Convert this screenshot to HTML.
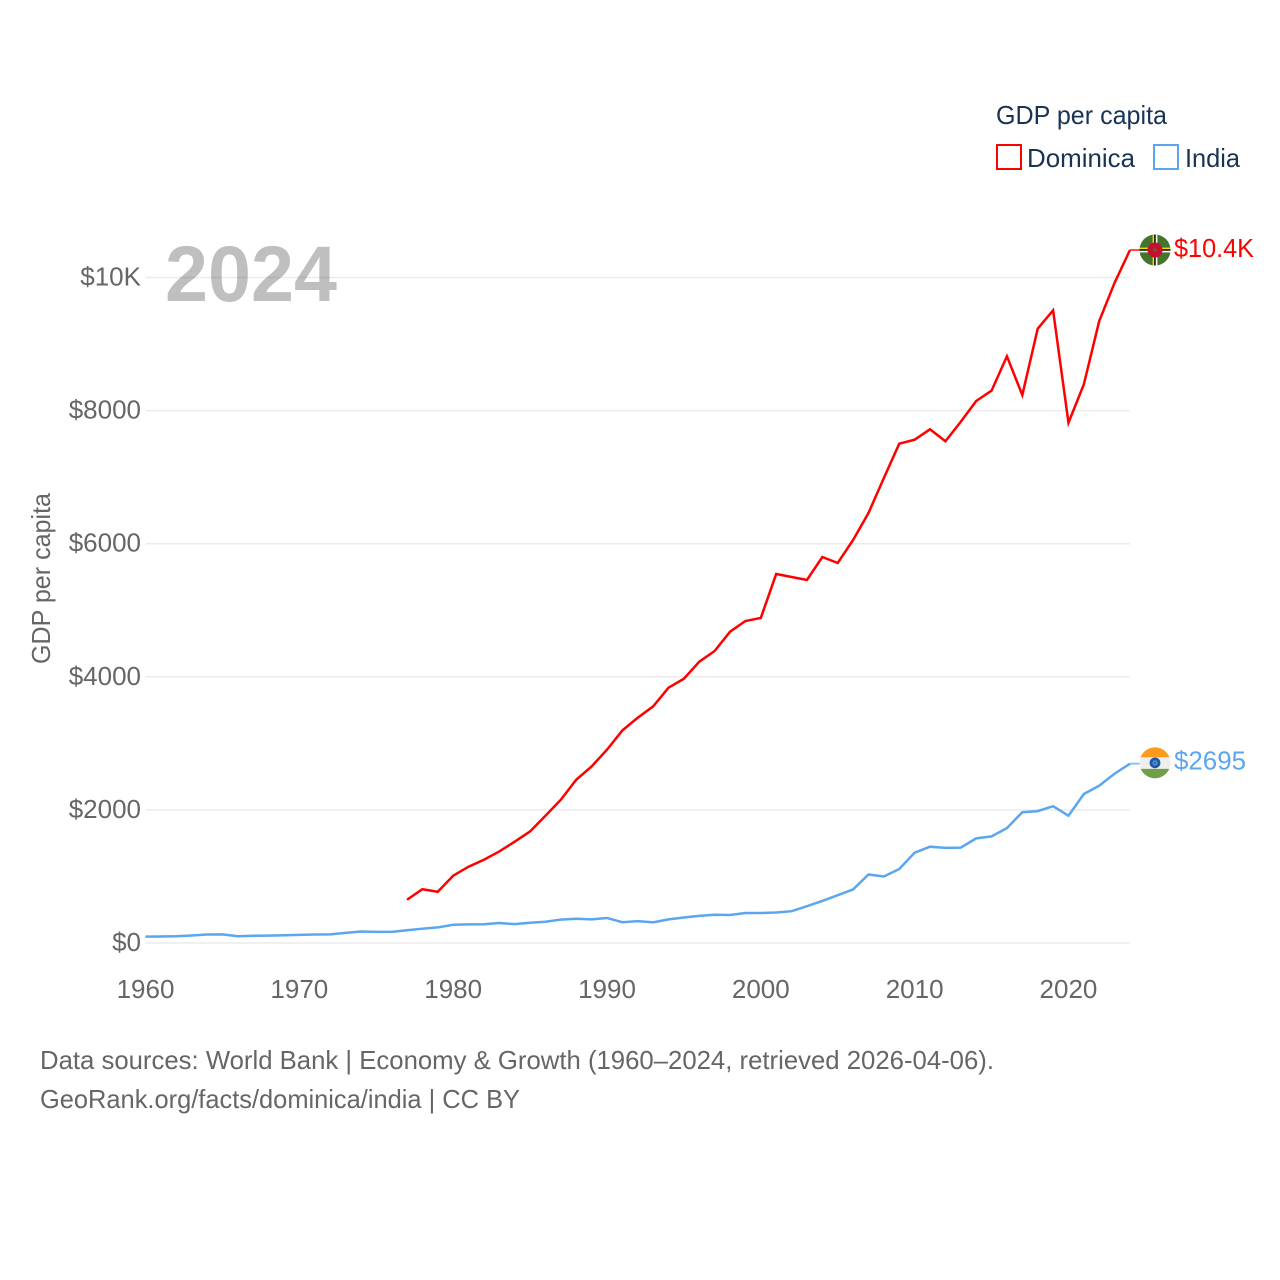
<!DOCTYPE html>
<html lang="en">
<head>
<meta charset="utf-8">
<title>GDP per capita: Dominica and India</title>
<style>
html,body{margin:0;padding:0;background:#fff;}
svg{display:block;}
text{font-family:"Liberation Sans",sans-serif;}
</style>
</head>
<body>
<svg id="chart" xmlns="http://www.w3.org/2000/svg" width="1280" height="1280" viewBox="0 0 1280 1280">
  <defs>
    <clipPath id="flag-clip"><circle cx="0" cy="0" r="15.5"/></clipPath>
  </defs>
  <rect x="0" y="0" width="1280" height="1280" fill="#ffffff"/>

  <g id="grid"></g>
  <text x="165" y="301" font-size="79" font-weight="700" fill="#000000" fill-opacity="0.25" textLength="172" lengthAdjust="spacingAndGlyphs">2024</text>
  <g id="y-ticks"></g>
  <g id="x-ticks"></g>
  <text transform="translate(50,664) rotate(-90)" font-size="26" fill="#666666" textLength="171" lengthAdjust="spacingAndGlyphs">GDP per capita</text>

  <g id="series"></g>

  <g id="flag-dominica">
    <g clip-path="url(#flag-clip)">
      <rect x="-16" y="-16" width="32" height="32" fill="#44752c"/>
      <rect x="-2.4" y="-16" width="1.6" height="32" fill="#f5d90a"/>
      <rect x="-0.8" y="-16" width="1.6" height="32" fill="#111111"/>
      <rect x="0.8" y="-16" width="1.6" height="32" fill="#ffffff"/>
      <rect x="-16" y="-2.4" width="32" height="1.6" fill="#f5d90a"/>
      <rect x="-16" y="-0.8" width="32" height="1.6" fill="#111111"/>
      <rect x="-16" y="0.8" width="32" height="1.6" fill="#ffffff"/>
      <circle cx="0" cy="0" r="7.5" fill="#c8102e"/>
      <circle cx="0" cy="0" r="1.6" fill="#44752c"/>
    </g>
  </g>
  <g id="flag-india">
    <g clip-path="url(#flag-clip)">
      <rect x="-16" y="-16" width="32" height="10.5" fill="#ff9a1f"/>
      <rect x="-16" y="-5.5" width="32" height="11.5" fill="#eeeeee"/>
      <rect x="-16" y="6" width="32" height="10" fill="#6f9f48"/>
      <circle cx="0" cy="0" r="5.4" fill="#1b58a8"/>
      <circle cx="0" cy="0" r="2.6" fill="#5f8fca"/>
      <circle cx="0" cy="0" r="1" fill="#1b58a8"/>
    </g>
  </g>

  <text id="label-dominica" x="1174" font-size="26" fill="#ff0000" textLength="80" lengthAdjust="spacingAndGlyphs"></text>
  <text id="label-india" x="1174" font-size="26" fill="#5ba6ee" textLength="72" lengthAdjust="spacingAndGlyphs"></text>

  <g>
    <text x="996" y="124" font-size="26" fill="#1a3354" textLength="171" lengthAdjust="spacingAndGlyphs">GDP per capita</text>
    <g>
      <rect x="997" y="145" width="24" height="24" fill="none" stroke="#ff0000" stroke-width="2"/>
      <text x="1027" y="167" font-size="26" fill="#1a3354" textLength="108" lengthAdjust="spacingAndGlyphs">Dominica</text>
    </g>
    <g>
      <rect x="1154" y="145" width="24" height="24" fill="none" stroke="#5ba6ee" stroke-width="2"/>
      <text x="1185" y="167" font-size="26" fill="#1a3354" textLength="55" lengthAdjust="spacingAndGlyphs">India</text>
    </g>
  </g>

  <text x="40" y="1069" font-size="26" fill="#666666" textLength="954" lengthAdjust="spacingAndGlyphs">Data sources: World Bank | Economy &amp; Growth (1960–2024, retrieved 2026-04-06).</text>
  <a><text x="40" y="1108" font-size="26" fill="#666666" textLength="480" lengthAdjust="spacingAndGlyphs">GeoRank.org/facts/dominica/india | CC BY</text></a>
</svg>

<script>
var years = [1960,1961,1962,1963,1964,1965,1966,1967,1968,1969,1970,1971,1972,1973,1974,1975,1976,1977,1978,1979,1980,1981,1982,1983,1984,1985,1986,1987,1988,1989,1990,1991,1992,1993,1994,1995,1996,1997,1998,1999,2000,2001,2002,2003,2004,2005,2006,2007,2008,2009,2010,2011,2012,2013,2014,2015,2016,2017,2018,2019,2020,2021,2022,2023,2024];
var dominicaValues = [null,null,null,null,null,null,null,null,null,null,null,null,null,null,null,null,null,650,808,770,1011,1146,1251,1376,1522,1676,1912,2153,2453,2653,2904,3194,3385,3555,3836,3971,4227,4388,4678,4838,4884,5545,5500,5455,5800,5710,6056,6461,6987,7503,7563,7719,7539,7833,8144,8299,8816,8234,9231,9507,7818,8395,9346,9922,10413];
var indiaValues = [95,98,102,113,127,130,102,108,110,117,122,128,130,153,172,167,167,192,215,234,274,280,282,300,284,304,319,352,365,355,376,312,328,310,355,383,408,424,421,450,450,459,478,553,632,719,805,1030,999,1112,1357,1447,1429,1433,1572,1602,1726,1965,1982,2055,1913,2239,2364,2545,2695];
var yTickValues = [0,2000,4000,6000,8000,10000];
var yTickLabels = ["$0","$2000","$4000","$6000","$8000","$10K"];
var xTickValues = [1960,1970,1980,1990,2000,2010,2020];

var SVG_NS = "http://www.w3.org/2000/svg";
function xScale(year){ return 145.5 + (year - 1960) * (1130 - 145.5) / 64; }
function yScale(value){ return 943 - value * 0.06655; }
function make(tag, parent){
  var el = document.createElementNS(SVG_NS, tag);
  parent.appendChild(el);
  return el;
}
function formatEnd(value){
  return value >= 10000 ? "$" + (value / 1000).toFixed(1) + "K" : "$" + value;
}

var gridGroup = document.getElementById("grid");
var yTickGroup = document.getElementById("y-ticks");
yTickValues.forEach(function(value, i){
  var line = make("line", gridGroup);
  
  
  line.setAttribute("x1", xScale(1960));
  line.setAttribute("x2", xScale(2024));
  line.setAttribute("y1", yScale(value));
  line.setAttribute("y2", yScale(value));
  line.setAttribute("stroke", "#ebebeb");
  line.setAttribute("stroke-width", "1.5");

  var label = make("text", yTickGroup);
  
  
  label.setAttribute("x", 141);
  label.setAttribute("y", yScale(value) + 8);
  label.setAttribute("text-anchor", "end");
  label.setAttribute("font-size", "26");
  label.setAttribute("fill", "#666666");
  label.textContent = yTickLabels[i];
});

var xTickGroup = document.getElementById("x-ticks");
xTickValues.forEach(function(year){
  var label = make("text", xTickGroup);
  
  
  label.setAttribute("x", xScale(year));
  label.setAttribute("y", 998);
  label.setAttribute("text-anchor", "middle");
  label.setAttribute("font-size", "26");
  label.setAttribute("fill", "#666666");
  label.textContent = String(year);
});

function linePoints(values){
  var pts = [];
  values.forEach(function(value, i){
    if (value !== null) { pts.push(xScale(years[i]).toFixed(2) + "," + yScale(value).toFixed(2)); }
  });
  return pts.join(" ");
}

var seriesGroup = document.getElementById("series");

var indiaLeader = make("line", seriesGroup);


var dominicaLeader = make("line", seriesGroup);



var indiaLine = make("polyline", seriesGroup);


indiaLine.setAttribute("points", linePoints(indiaValues));
indiaLine.setAttribute("fill", "none");
indiaLine.setAttribute("stroke", "#5ba6ee");
indiaLine.setAttribute("stroke-width", "2.5");
indiaLine.setAttribute("stroke-linejoin", "miter");

var dominicaLine = make("polyline", seriesGroup);


dominicaLine.setAttribute("points", linePoints(dominicaValues));
dominicaLine.setAttribute("fill", "none");
dominicaLine.setAttribute("stroke", "#ff0000");
dominicaLine.setAttribute("stroke-width", "2.5");
dominicaLine.setAttribute("stroke-linejoin", "miter");

function placeEnd(values, flagId, labelId, leader, color, labelOffset, flagOffset){
  var last = values[values.length - 1];
  var y = yScale(last);
  var x = xScale(years[years.length - 1]);
  leader.setAttribute("x1", x);
  leader.setAttribute("x2", x + 12);
  leader.setAttribute("y1", y);
  leader.setAttribute("y2", y);
  leader.setAttribute("stroke", color);
  leader.setAttribute("stroke-width", "2");
  leader.setAttribute("stroke-opacity", "0.7");
  document.getElementById(flagId).setAttribute("transform", "translate(1155," + (y + flagOffset).toFixed(2) + ")");
  var label = document.getElementById(labelId);
  label.setAttribute("y", (y + labelOffset).toFixed(2));
  label.textContent = formatEnd(last);
}
placeEnd(dominicaValues, "flag-dominica", "label-dominica", dominicaLeader, "#ff0000", 7, 0);
placeEnd(indiaValues, "flag-india", "label-india", indiaLeader, "#5ba6ee", 6, -0.8);
</script>
</body>
</html>
